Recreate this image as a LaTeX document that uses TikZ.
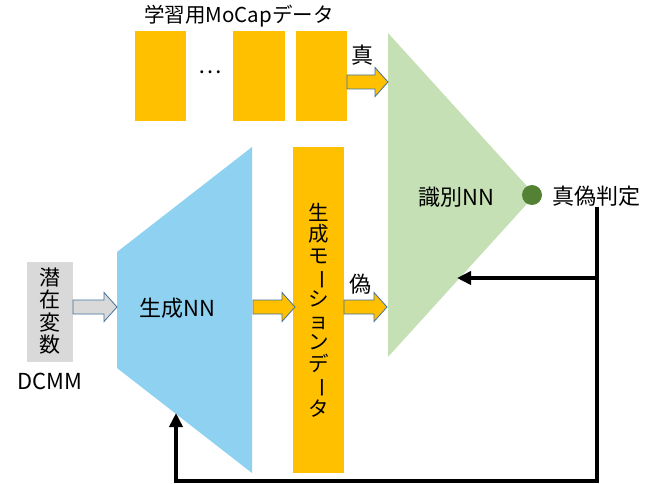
\documentclass[tikz,border=0pt]{standalone}
\usepackage{fontspec}
\setmainfont{Noto Sans CJK JP}
\usetikzlibrary{arrows.meta}
\definecolor{cOrange}{HTML}{FFC000}
\definecolor{cBlue}{HTML}{8ED1F0}
\definecolor{cGreen}{HTML}{C5E0B4}
\definecolor{cDot}{HTML}{548235}
\definecolor{cGray}{HTML}{D9D9D9}
\definecolor{cEdge}{HTML}{41719C}
\tikzset{
  databox/.style={fill=cOrange, draw=none, inner sep=0pt},
  lbl/.style={font=\fontsize{22}{24}\selectfont, inner sep=0pt, text=black},
  fb/.style={line width=3.6pt, draw=black},
  fbarrow/.style={fb, -{Triangle[length=14pt,width=13pt]}},
  blockarrow/.style={draw=cEdge, line width=0.8pt, line join=miter},
}
\newcommand{\vbar}{\rotatebox[origin=c]{-90}{ー}}
% block arrow: #1 fill colour, #2 start x, #3 end x, #4 centre y
\newcommand{\myblockarrow}[4]{%
  \path[blockarrow, fill=#1] (#2,#4-7) -- (#3-13,#4-7) -- (#3-13,#4-14.5) -- (#3,#4) -- (#3-13,#4+14.5) -- (#3-13,#4+7) -- (#2,#4+7) -- cycle;}
\begin{document}
\begin{tikzpicture}[x=1pt,y=-1pt]
\useasboundingbox (0,0) rectangle (654,484);
% title and training data
\node[lbl, font=\fontsize{20.5}{24}\selectfont] (title) at (239,16) {学習用MoCapデータ};
\node[databox, minimum width=51pt, minimum height=90pt] (d1) at (160.5,76) {};
\node[databox, minimum width=52pt, minimum height=90pt] (d2) at (259,76) {};
\node[databox, minimum width=51pt, minimum height=90pt] (d3) at (321.5,76) {};
\node[lbl] (dots) at (210,72) {…};
% discriminator
\fill[cGreen] (388,33) -- (535,195) -- (388,357) -- cycle;
\coordinate (discIn) at (457,278);
\node[lbl] (disc) at (456,197) {識別NN};
\fill[cDot] (532,195) circle (10);
\node[lbl] (judge) at (596,196) {真偽判定};
% generator
\fill[cBlue] (117,252) -- (252,147) -- (252,473) -- (117,368) -- cycle;
\node[lbl] (gen) at (177,308) {生成NN};
\coordinate (genIn) at (176,413);
% generated motion data
\node[databox, minimum width=51pt, minimum height=326pt] (gm) at (318.5,310) {};
\node[font=\fontsize{20.5}{21.4}\selectfont, align=center, inner sep=0pt] (gmtxt) at (318.5,310) {生\\成\\モ\\\vbar\\シ\\ョ\\ン\\デ\\\vbar\\タ};
% latent variable
\node[fill=cGray, minimum width=46pt, minimum height=100pt, inner sep=0pt] (lat) at (50,312) {};
\node[font=\fontsize{21}{22.5}\selectfont, align=center, inner sep=0pt] (lattxt) at (50,311) {潜\\在\\変\\数};
\node[lbl] (dcmm) at (50,381) {DCMM};
% block arrows
\myblockarrow{cGray}{73}{117}{307}
\myblockarrow{cOrange}{253}{295}{307}
\myblockarrow{cOrange}{344}{387}{307}
\myblockarrow{cOrange}{347}{388}{82}
\node[lbl] (real) at (362,55) {真};
\node[lbl] (fake) at (360,284) {偽};
% feedback lines
\coordinate (v1) at (597,207);
\coordinate (v2) at (597,278);
\coordinate (v3) at (597,481);
\coordinate (v4) at (176,481);
\draw[fb] (v1) -- (v3) -- (v4);
\draw[fbarrow] ([xshift=1.8pt]v2) -- (discIn);
\draw[fbarrow] ([yshift=-1.8pt]v4) -- (genIn);
\end{tikzpicture}
\end{document}
